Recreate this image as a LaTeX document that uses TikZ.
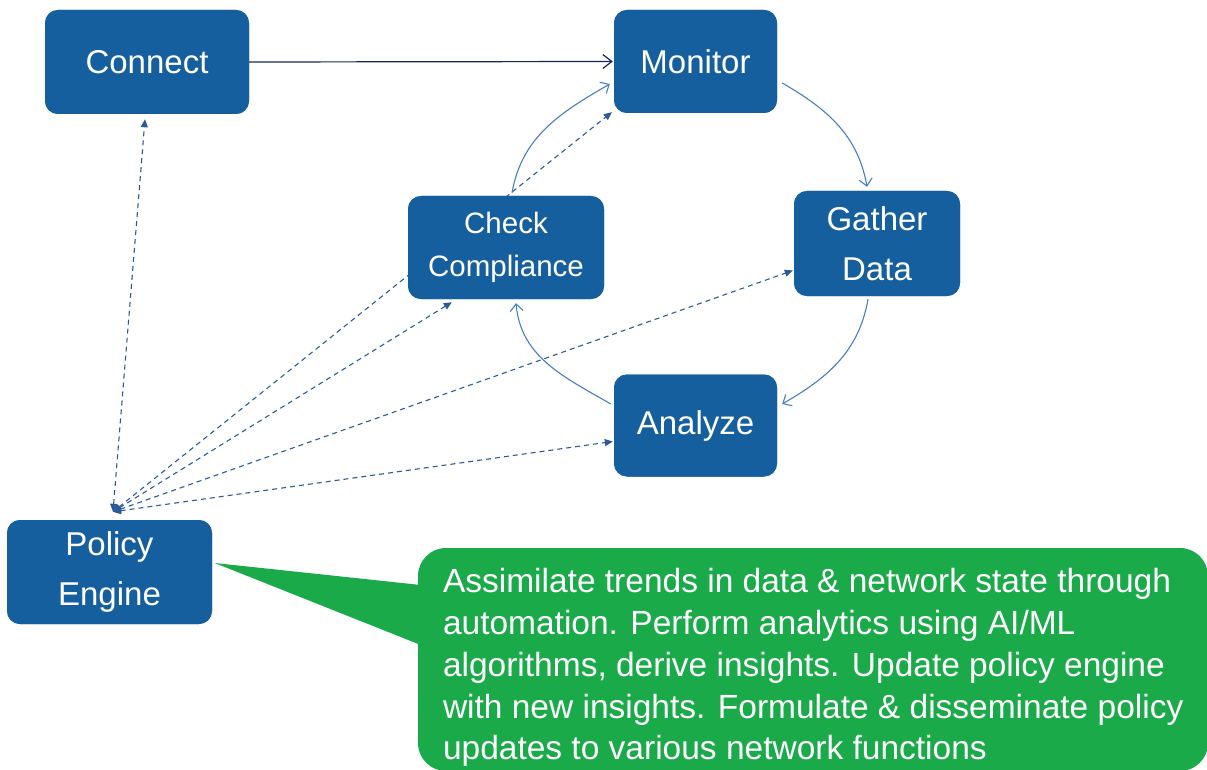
\documentclass[tikz,border=0pt]{standalone}
\usepackage{fontspec}
\setmainfont{Liberation Sans}
\usetikzlibrary{arrows.meta,calc}
\definecolor{boxblue}{RGB}{22,95,158}
\definecolor{callgreen}{RGB}{27,170,74}
\definecolor{navyline}{RGB}{25,35,85}
\definecolor{cycblue}{RGB}{70,125,195}
\definecolor{dashblue}{RGB}{45,90,150}
\tikzset{
  bx/.style={draw=none, fill=boxblue, rounded corners=13pt, text=white, align=center, inner sep=0pt,
    font=\fontsize{33}{50}\selectfont},
  cyc/.style={draw=cycblue, line width=1.1pt, -{Straight Barb[length=7pt,width=13pt]}},
  dsh/.style={draw=dashblue, line width=1.1pt, dash pattern=on 5pt off 4pt,
    {Triangle[length=8pt,width=7pt]}-{Triangle[length=8pt,width=7pt]}},
  mainarrow/.style={draw=navyline, line width=1.2pt, -{Straight Barb[length=9pt,width=14pt]}},
}
\begin{document}
\begin{tikzpicture}[x=1pt,y=1pt]
\useasboundingbox (0,0) rectangle (1207,-770);
% nodes (positions only; drawn later for layering)
\path
  node[bx, minimum width=204pt, minimum height=104pt] (Connect) at (147,-62) {Connect}
  node[bx, minimum width=163pt, minimum height=103pt] (Monitor) at (695.5,-61.5) {Monitor}
  node[bx, minimum width=196pt, minimum height=103pt, font=\fontsize{29.5}{43}\selectfont] (Check) at (506,-247.5) {Check\\Compliance}
  node[bx, minimum width=166pt, minimum height=105pt] (Gather) at (877,-243.5) {Gather\\Data}
  node[bx, minimum width=163pt, minimum height=102pt] (Analyze) at (695.5,-425.5) {Analyze}
  node[bx, minimum width=205pt, minimum height=104pt] (Policy) at (109.5,-572) {Policy\\Engine};
\coordinate (hub) at ($(Policy.north)+(3.5,8)$);
% dashed links (behind boxes)
\draw[dsh] (hub) -- ($(Connect.south)+(-2,-5)$);
\draw[dsh] (hub) -- ($(Monitor.south west)+(-2,1)$);
\draw[dsh] (hub) -- ($(Check.south west)+(44,-3)$);
\draw[dsh] (hub) -- ($(Gather.west)+(-1,-27)$);
\draw[dsh] (hub) -- ($(Analyze.west)+(-1,-16)$);
% redraw boxes on top
\node[bx, minimum width=204pt, minimum height=104pt] at (Connect) {Connect};
\node[bx, minimum width=163pt, minimum height=103pt] at (Monitor) {Monitor};
\node[bx, minimum width=196pt, minimum height=103pt, font=\fontsize{29.5}{43}\selectfont] at (Check) {Check\\Compliance};
\node[bx, minimum width=166pt, minimum height=105pt] at (Gather) {Gather\\Data};
\node[bx, minimum width=163pt, minimum height=102pt] at (Analyze) {Analyze};
\node[bx, minimum width=205pt, minimum height=104pt] at (Policy) {Policy\\Engine};
% main arrow
\draw[mainarrow] (Connect.east) -- ($(Monitor.west)+(-1,0)$);
% cycle arrows
\draw[cyc] ($(Monitor.east)+(5,-21.5)$) to[out=-30,in=100] ($(Gather.north)+(-10,4)$);
\draw[cyc] ($(Gather.south)+(-9,-3)$) to[out=-100,in=30] ($(Analyze.east)+(5,21.5)$);
\draw[cyc] ($(Analyze.west)+(-3,21.5)$) to[out=150,in=-85] ($(Check.south)+(10,-4)$);
\draw[cyc] ($(Check.north)+(6,3)$) to[out=80,in=-150] ($(Monitor.west)+(-4,-22.5)$);
% callout
\node[fill=callgreen, rounded corners=28pt, minimum width=790pt, minimum height=223pt, inner sep=0pt] (Note) at (813,-659.5) {};
\fill[callgreen] ($(Policy.east)+(2.5,9)$) -- ($(Note.west)+(3,74.5)$) -- ($(Note.west)+(3,14.5)$) -- cycle;
\node[anchor=north west, inner sep=0pt, text=white, align=left, font=\fontsize{33.5}{41.8}\selectfont] (NoteText) at ($(Note.north west)+(25,-20.5)$)
{Assimilate trends in data \& network state through\\
automation. Perform analytics using AI/ML\\
algorithms, derive insights. Update policy engine\\
with new insights. Formulate \& disseminate policy\\
updates to various network functions};
\end{tikzpicture}
\end{document}
